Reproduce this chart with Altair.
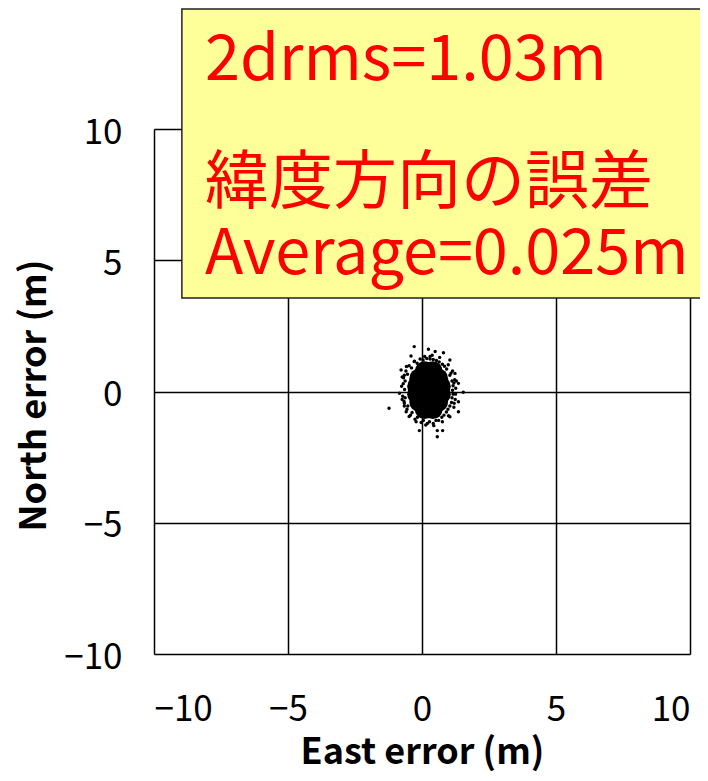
import altair as alt
import pandas as pd

# ---- data ----
core_x = [0.10, 0.40, -0.10, 0.25, 0.60, -0.18, 0.10, 0.40, 0.70, -0.18, 0.10, 0.40, 0.70,
          -0.10, 0.25, 0.60, 0.10, 0.40]
core_y = [0.77, 0.77, 0.50, 0.50, 0.50, 0.20, 0.20, 0.20, 0.20, -0.10, -0.10, -0.10, -0.10,
          -0.40, -0.40, -0.40, -0.67, -0.67]

pts_x = [1.14, 1.16, 1.12, 1.04, 0.92, 0.76, 0.54, 0.30, 0.04, -0.18, -0.39, -0.54,
         -0.63, -0.65, -0.63, -0.53, -0.37, -0.17, 0.05, 0.28, 0.52, 0.74, 0.91, 1.04, 1.12,
         1.26, 1.22, 1.14, 0.98, 0.66, 0.38, 0.10, -0.28, -0.58, -0.74, -0.76, -0.72,
         -0.66, -0.48, -0.22, 0.14, 0.44, 0.76, 0.99, 1.19, 1.24,
         1.19, 1.08, 0.84, 0.64, 0.42, 0.18, -0.07, -0.29, -0.48, -0.60, -0.69, -0.67,
         -0.56, -0.43, -0.26, -0.03, 0.20, 0.42, 0.62, 0.82, 0.97, 1.10, 1.16,
         -0.70, -0.74, -0.66, -0.66, 1.25, 1.28, 1.20,
         -0.29, 0.24, 0.80, 0.49, -0.41, -1.23, 1.54, -0.10, 0.57, 0.77, 0.57, 1.36,
         1.36, 1.36, -0.78, -0.84, -0.59, 1.04, 1.04, 1.23, 0.30]
pts_y = [0.05, 0.22, 0.40, 0.62, 0.86, 1.04, 1.18, 1.24, 1.20, 1.08, 0.90, 0.66,
         0.40, 0.08, -0.24, -0.55, -0.80, -0.98, -1.10, -1.15, -1.10, -0.98, -0.78, -0.55, -0.24,
         0.12, 0.45, 0.78, 1.02, 1.30, 1.38, 1.33, 1.15, 0.95, 0.55, 0.20, -0.18,
         -0.55, -0.95, -1.15, -1.28, -1.30, -1.15, -0.92, -0.60, -0.30,
         0.32, 0.70, 0.96, 1.12, 1.22, 1.26, 1.24, 1.14, 0.98, 0.78, 0.52, -0.38,
         -0.68, -0.90, -1.06, -1.18, -1.22, -1.22, -1.10, -0.90, -0.68, -0.42, -0.10,
         0.30, -0.30, 0.62, -0.45, -0.10, 0.40, -0.45,
         1.71, 1.61, 1.48, 1.52, 1.35, -0.64, -0.03, -1.49, -1.49, -1.49, -1.72, -0.77,
         -0.39, 0.31, 0.82, -0.07, -0.77, -0.96, 1.20, 0.69, 1.33]

tick_values = [-10, -5, 0, 5, 10]
latin_lines = ["2drms=1.03m", "Average=0.025m"]
latin_y = [11.85, 4.48]
cjk_lines = ["緯度方向の誤差"]
cjk_y = [7.18]
note_x = -8.1
box = {"x": -8.96, "x2": 11.0, "y": 14.57, "y2": 3.56}

core_df = pd.DataFrame({"x": core_x, "y": core_y})
pts_df = pd.DataFrame({"x": pts_x, "y": pts_y})
latin_df = pd.DataFrame({"t": latin_lines, "y": latin_y, "x": [note_x] * len(latin_lines)})
cjk_df = pd.DataFrame({"t": cjk_lines, "y": cjk_y, "x": [note_x] * len(cjk_lines)})
box_df = pd.DataFrame([box])

xs = alt.Scale(domain=[-10, 10], nice=False, zero=False)
ys = alt.Scale(domain=[-10, 10], nice=False, zero=False)

font = "Noto Sans CJK JP"

x_axis = alt.Axis(values=tick_values, title="East error (m)", grid=True, domain=False,
                  ticks=False, tickSize=0, labelPadding=38, labelFontSize=35,
                  labelFont=font, labelColor="black", titleFont=font,
                  titleFontSize=36, titleFontWeight="bold", titleColor="black",
                  titleY=109, titleBaseline="alphabetic", gridColor="black", gridWidth=1.5,
                  gridOpacity=1)
y_axis = alt.Axis(values=tick_values, title="North error (m)", grid=True, domain=False,
                  ticks=False, tickSize=0, labelPadding=32, labelFontSize=35,
                  labelFont=font, labelColor="black", labelOffset=3, titleFont=font,
                  titleFontSize=36, titleFontWeight="bold", titleColor="black",
                  titleX=-109, titleY=266, titleBaseline="alphabetic", gridColor="black",
                  gridWidth=1.5, gridOpacity=1)

core = alt.Chart(core_df).mark_circle(size=400, color="black", opacity=1).encode(
    x=alt.X("x:Q", scale=xs, axis=x_axis),
    y=alt.Y("y:Q", scale=ys, axis=y_axis),
)
pts = alt.Chart(pts_df).mark_circle(size=12, color="black", opacity=1).encode(
    x=alt.X("x:Q", scale=xs),
    y=alt.Y("y:Q", scale=ys),
)
rect = alt.Chart(box_df).mark_rect(fill="#FFFF99", stroke="#222222", strokeWidth=1.5).encode(
    x=alt.X("x:Q", scale=xs), x2="x2:Q",
    y=alt.Y("y:Q", scale=ys), y2="y2:Q",
)
latin = alt.Chart(latin_df).mark_text(align="left", baseline="alphabetic", fontSize=63,
                                      font=font, color="#FF0000").encode(
    x=alt.X("x:Q", scale=xs),
    y=alt.Y("y:Q", scale=ys),
    text="t:N",
)
cjk = alt.Chart(cjk_df).mark_text(align="left", baseline="alphabetic", fontSize=64,
                                  font=font, color="#FF0000").encode(
    x=alt.X("x:Q", scale=xs),
    y=alt.Y("y:Q", scale=ys),
    text="t:N",
)

chart = alt.layer(core, pts, rect, latin, cjk).properties(
    width=536, height=525,
    autosize=alt.AutoSizeParams(type="none"),
    padding={"left": 146, "top": 121, "right": 10, "bottom": 119},
).configure_view(stroke="black", strokeWidth=3).configure(background="white")

chart.save("out.html", embed_options={"renderer": "svg", "actions": False})
